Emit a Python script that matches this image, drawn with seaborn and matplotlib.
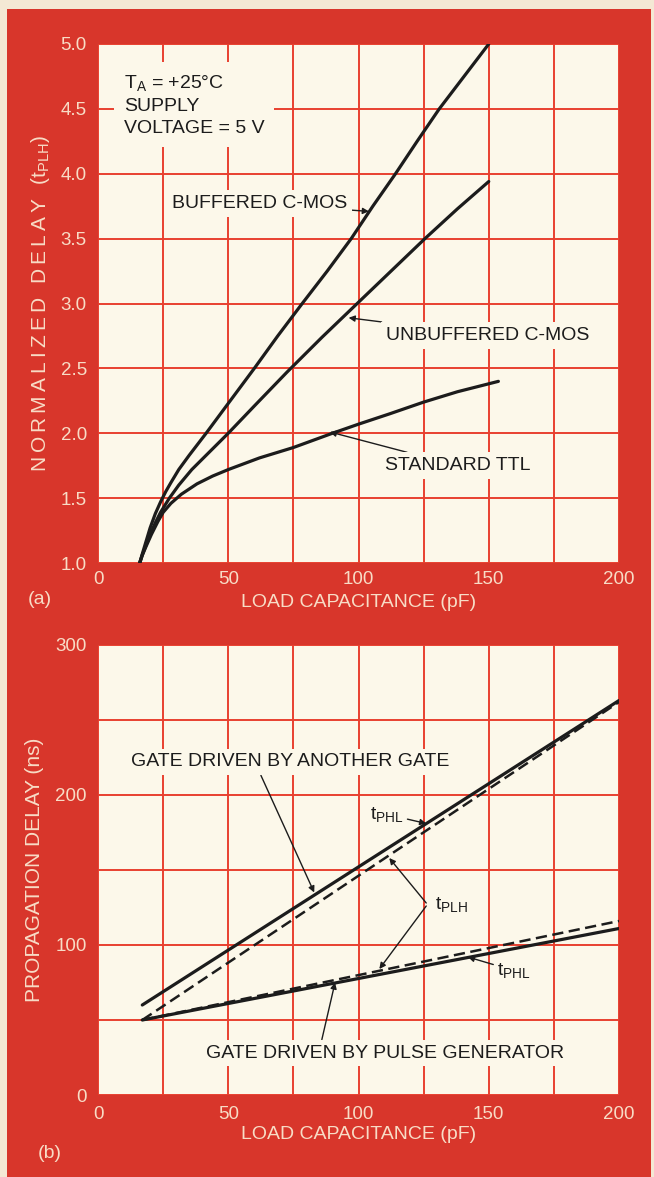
import matplotlib
matplotlib.use("Agg")
import matplotlib.pyplot as plt
import seaborn as sns
import numpy as np
from matplotlib.patches import Rectangle

# ---------------- data ----------------
# (a) normalized delay vs load capacitance
buf_x = [16, 17, 18.5, 20, 22, 24, 26, 28, 31, 35, 41.5, 50, 60, 69, 78.4, 88, 97.2, 105.5, 114.2, 122.5, 131, 140.5, 150]
buf_y = [1.0, 1.07, 1.17, 1.27, 1.38, 1.47, 1.55, 1.62, 1.72, 1.83, 2.0, 2.23, 2.5, 2.75, 3.0, 3.25, 3.5, 3.75, 4.0, 4.25, 4.5, 4.75, 5.0]
unbuf_x = [16, 17, 18.5, 20, 22, 24, 27.4, 31, 36, 42, 50, 60, 72.5, 86, 99.5, 112.5, 125.5, 138, 150]
unbuf_y = [1.0, 1.06, 1.14, 1.22, 1.31, 1.39, 1.5, 1.6, 1.72, 1.84, 2.0, 2.21, 2.47, 2.74, 3.0, 3.25, 3.5, 3.73, 3.94]
ttl_x = [16, 17, 18.5, 20.5, 23, 25, 28, 32, 38, 44, 50, 62, 75, 90, 100, 112, 125, 138, 153.7]
ttl_y = [1.0, 1.06, 1.13, 1.22, 1.32, 1.39, 1.46, 1.53, 1.61, 1.67, 1.72, 1.81, 1.89, 2.0, 2.07, 2.15, 2.24, 2.32, 2.40]

# (b) propagation delay vs load capacitance
gate_x = [17, 200]
gate_phl = [60, 263]
gate_plh = [50, 262]
pulse_x = [17, 200]
pulse_phl = [50, 111]
pulse_plh = [50, 116]

xticks = [0, 50, 100, 150, 200]
yticks_a = [1.0, 1.5, 2.0, 2.5, 3.0, 3.5, 4.0, 4.5, 5.0]
yticks_b = [0, 100, 200, 300]

# ---------------- style ----------------
RED = "#d8362b"
GRID = "#e8402f"
CREAM = "#fcf8ea"
MARGIN = "#f4e8d4"
LBL = "#f8dcc6"
INK = "#1c1c1c"
FS = 13.5      # tick labels
FT = 14        # annotation text
FL = 15        # y axis labels

sns.set_theme(style="white")
plt.rcParams["font.family"] = ["Liberation Sans", "DejaVu Sans"]
plt.rcParams["mathtext.fontset"] = "custom"
plt.rcParams["mathtext.rm"] = "Liberation Sans"
plt.rcParams["mathtext.it"] = "Liberation Sans"

fig = plt.figure(figsize=(6.54, 11.77), dpi=100, facecolor=MARGIN)
bg = Rectangle((7 / 654, 0), 644 / 654, 1 - 9 / 1177,
               transform=fig.transFigure, facecolor=RED, edgecolor="none", zorder=-10)
fig.add_artist(bg)

axA = fig.add_axes([98 / 654, 1 - 563 / 1177, 521 / 654, 519 / 1177])
axB = fig.add_axes([98 / 654, 1 - 1095 / 1177, 521 / 654, 450 / 1177])


def style_axis(ax, yminor):
    ax.set_facecolor(CREAM)
    for s in ax.spines.values():
        s.set_visible(False)
    ax.set_xticks(np.arange(0, 201, 25), minor=True)
    ax.set_yticks(yminor, minor=True)
    ax.grid(True, which="both", color=GRID, lw=1.4, zorder=1)
    ax.tick_params(which="both", length=0, colors=LBL, labelsize=FS)
    ax.set_axisbelow(True)


def spaced(s):
    return "\u2009".join(s)


# ---------------- panel (a) ----------------
style_axis(axA, np.arange(1.0, 5.01, 0.5))
lw = 2.3
sns.lineplot(x=buf_x, y=buf_y, ax=axA, color=INK, lw=lw, sort=False, estimator=None, zorder=3)
sns.lineplot(x=unbuf_x, y=unbuf_y, ax=axA, color=INK, lw=lw, sort=False, estimator=None, zorder=3)
sns.lineplot(x=ttl_x, y=ttl_y, ax=axA, color=INK, lw=lw, sort=False, estimator=None, zorder=3)
axA.set_xlim(0, 200)
axA.set_ylim(1.0, 5.0)
axA.set_xticks(xticks)
axA.set_xticklabels([str(v) for v in xticks])
axA.set_yticks(yticks_a)
axA.set_yticklabels([f"{v:.1f}" for v in yticks_a])
axA.tick_params(axis="x", pad=6)
axA.tick_params(axis="y", pad=8)
axA.set_xlabel("LOAD CAPACITANCE (pF)", color=LBL, fontsize=FT, labelpad=4)
axA.set_ylabel(spaced("NORMALIZED DELAY (") + r"t$_{\mathrm{PLH}}$)",
               color=LBL, fontsize=FL, labelpad=6)

bb = dict(boxstyle="square,pad=0.25", facecolor=CREAM, edgecolor="none")
axA.text(10, 4.53, "T$_{\\mathrm{A}}$ = +25\u00b0C\nSUPPLY\nVOLTAGE = 5 V", fontsize=FT,
         color=INK, va="center", ha="left", linespacing=1.4, zorder=4,
         bbox=dict(boxstyle="square,pad=0.5", facecolor=CREAM, edgecolor="none"))
arr = dict(arrowstyle="-|>", color=INK, lw=1.0, mutation_scale=9, shrinkA=0, shrinkB=0)
axA.annotate("BUFFERED C-MOS", xy=(104, 3.71), xytext=(95.5, 3.77), fontsize=FT, color=INK,
             ha="right", va="center", arrowprops=arr, bbox=bb, zorder=4)
axA.annotate("UNBUFFERED C-MOS", xy=(96.2, 2.89), xytext=(110.5, 2.755), fontsize=FT, color=INK,
             ha="left", va="center", arrowprops=arr, bbox=bb, zorder=4)
axA.annotate("STANDARD TTL", xy=(89, 2.01), xytext=(110.2, 1.75), fontsize=FT, color=INK,
             ha="left", va="center", arrowprops=arr, bbox=bb, zorder=4)

# ---------------- panel (b) ----------------
style_axis(axB, np.arange(0, 301, 50))
sns.lineplot(x=gate_x, y=gate_phl, ax=axB, color=INK, lw=lw, zorder=3)
sns.lineplot(x=gate_x, y=gate_plh, ax=axB, color=INK, lw=1.8, zorder=3)
axB.lines[-1].set_linestyle((0, (4.5, 2.2)))
sns.lineplot(x=pulse_x, y=pulse_phl, ax=axB, color=INK, lw=lw, zorder=3)
sns.lineplot(x=pulse_x, y=pulse_plh, ax=axB, color=INK, lw=1.8, zorder=3)
axB.lines[-1].set_linestyle((0, (4.5, 2.2)))
axB.set_xlim(0, 200)
axB.set_ylim(0, 300)
axB.set_xticks(xticks)
axB.set_xticklabels([str(v) for v in xticks])
axB.set_yticks(yticks_b)
axB.set_yticklabels([str(v) for v in yticks_b])
axB.tick_params(axis="x", pad=8)
axB.tick_params(axis="y", pad=8)
axB.set_xlabel("LOAD CAPACITANCE (pF)", color=LBL, fontsize=FT, labelpad=2)
axB.set_ylabel("PROPAGATION DELAY (ns)", color=LBL, fontsize=FL, labelpad=8)

axB.annotate("GATE DRIVEN BY ANOTHER GATE", xy=(83, 135), xytext=(12.8, 222), fontsize=FT,
             color=INK, ha="left", va="center", bbox=bb, zorder=4,
             arrowprops=dict(arrowstyle="-|>", color=INK, lw=1.0, mutation_scale=9,
                             shrinkA=0, shrinkB=0, relpos=(0.4, 0)))
axB.annotate("t$_{\\mathrm{PHL}}$", xy=(126, 181), xytext=(104.6, 187), fontsize=FT,
             color=INK, ha="left", va="center", arrowprops=arr, zorder=4)
axB.text(129.5, 127, "t$_{\\mathrm{PLH}}$", fontsize=FT, color=INK, ha="left", va="center", zorder=4)
axB.annotate("", xy=(111.8, 158), xytext=(126, 128), arrowprops=arr, zorder=4)
axB.annotate("", xy=(108, 84), xytext=(126, 126), arrowprops=arr, zorder=4)
axB.annotate("t$_{\\mathrm{PHL}}$", xy=(142, 92), xytext=(153, 83), fontsize=FT,
             color=INK, ha="left", va="center", arrowprops=arr, zorder=4)
axB.annotate("GATE DRIVEN BY PULSE GENERATOR", xy=(91, 75), xytext=(41.5, 28), fontsize=FT,
             color=INK, ha="left", va="center", bbox=bb, zorder=4,
             arrowprops=dict(arrowstyle="-|>", color=INK, lw=1.0, mutation_scale=9,
                             shrinkA=0, shrinkB=0, relpos=(0.32, 1)))

fig.text(40 / 654, 1 - 600 / 1177, "(a)", color=LBL, fontsize=FT, ha="center", va="center")
fig.text(50 / 654, 1 - 1153 / 1177, "(b)", color=LBL, fontsize=FT, ha="center", va="center")

fig.savefig("out.png", dpi=100, facecolor=fig.get_facecolor())
